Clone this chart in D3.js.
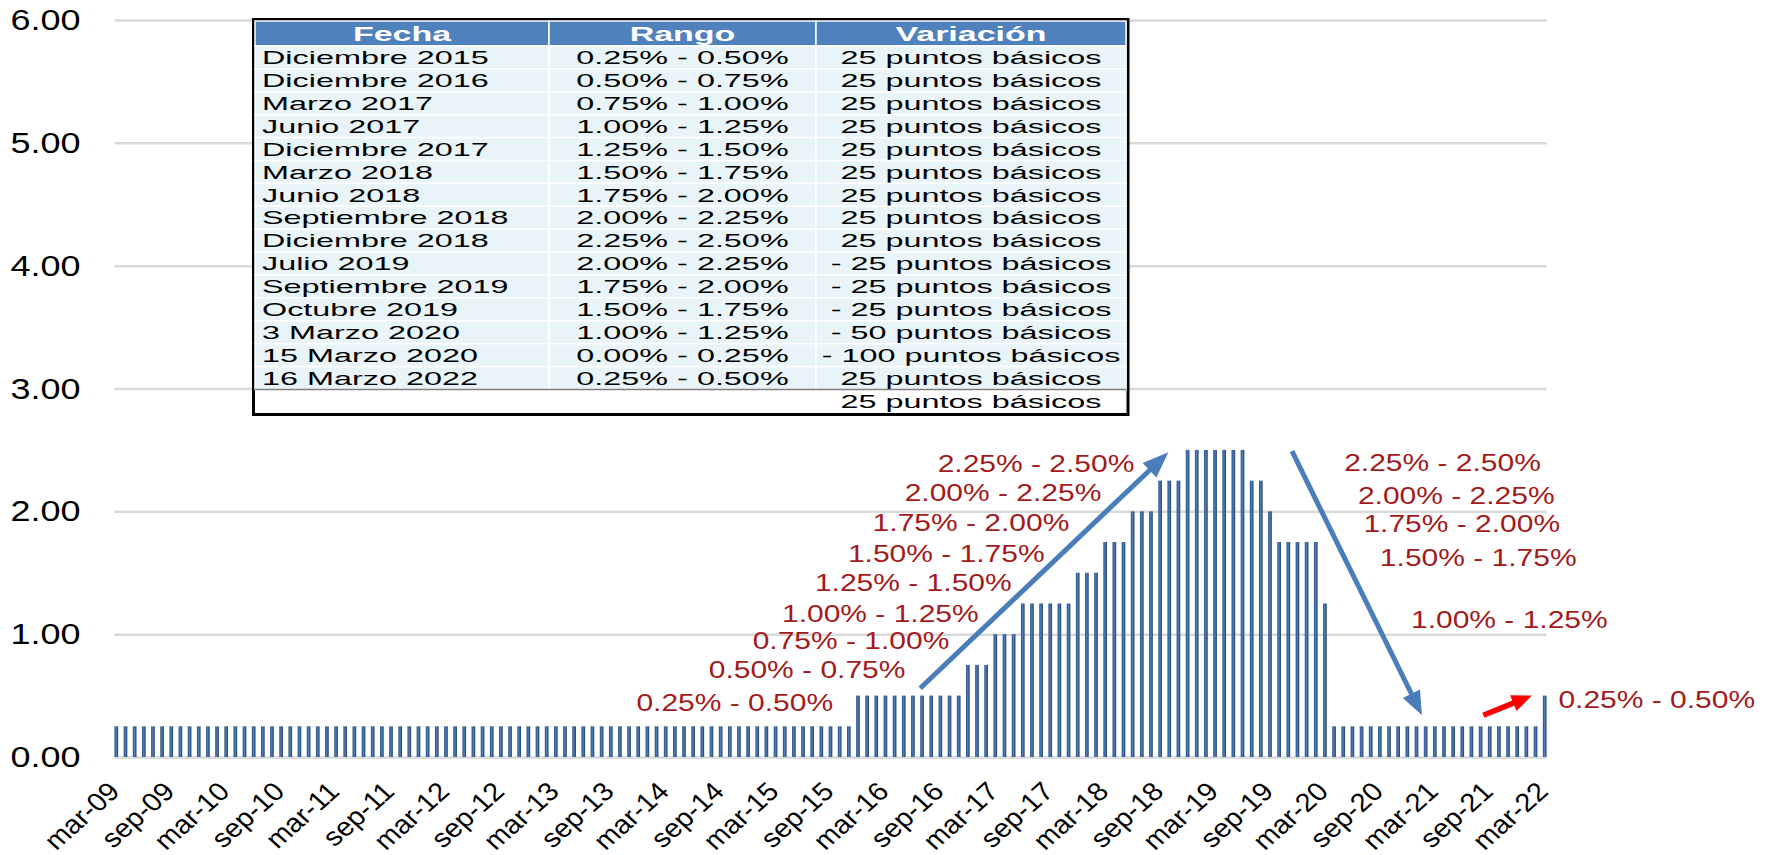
<!DOCTYPE html>
<html>
<head>
<meta charset="utf-8">
<script src="https://cdn.jsdelivr.net/npm/d3@7"></script>
<style>
body { margin: 0; background: #fff; }
text { font-family: "Liberation Sans", Arial, sans-serif; }
</style>
</head>
<body>
<div id="chart"></div>
<script>
// monthly upper bound of the target range, mar-09 .. mar-22
var months = [
  "mar-09","abr-09","may-09","jun-09","jul-09","ago-09","sep-09","oct-09","nov-09","dic-09",
  "ene-10","feb-10","mar-10","abr-10","may-10","jun-10","jul-10","ago-10","sep-10","oct-10","nov-10","dic-10",
  "ene-11","feb-11","mar-11","abr-11","may-11","jun-11","jul-11","ago-11","sep-11","oct-11","nov-11","dic-11",
  "ene-12","feb-12","mar-12","abr-12","may-12","jun-12","jul-12","ago-12","sep-12","oct-12","nov-12","dic-12",
  "ene-13","feb-13","mar-13","abr-13","may-13","jun-13","jul-13","ago-13","sep-13","oct-13","nov-13","dic-13",
  "ene-14","feb-14","mar-14","abr-14","may-14","jun-14","jul-14","ago-14","sep-14","oct-14","nov-14","dic-14",
  "ene-15","feb-15","mar-15","abr-15","may-15","jun-15","jul-15","ago-15","sep-15","oct-15","nov-15","dic-15",
  "ene-16","feb-16","mar-16","abr-16","may-16","jun-16","jul-16","ago-16","sep-16","oct-16","nov-16","dic-16",
  "ene-17","feb-17","mar-17","abr-17","may-17","jun-17","jul-17","ago-17","sep-17","oct-17","nov-17","dic-17",
  "ene-18","feb-18","mar-18","abr-18","may-18","jun-18","jul-18","ago-18","sep-18","oct-18","nov-18","dic-18",
  "ene-19","feb-19","mar-19","abr-19","may-19","jun-19","jul-19","ago-19","sep-19","oct-19","nov-19","dic-19",
  "ene-20","feb-20","mar-20","abr-20","may-20","jun-20","jul-20","ago-20","sep-20","oct-20","nov-20","dic-20",
  "ene-21","feb-21","mar-21","abr-21","may-21","jun-21","jul-21","ago-21","sep-21","oct-21","nov-21","dic-21",
  "ene-22","feb-22","mar-22"
];
var tasa = [
  0.25,0.25,0.25,0.25,0.25,0.25,0.25,0.25,0.25,0.25,
  0.25,0.25,0.25,0.25,0.25,0.25,0.25,0.25,0.25,0.25,0.25,0.25,
  0.25,0.25,0.25,0.25,0.25,0.25,0.25,0.25,0.25,0.25,0.25,0.25,
  0.25,0.25,0.25,0.25,0.25,0.25,0.25,0.25,0.25,0.25,0.25,0.25,
  0.25,0.25,0.25,0.25,0.25,0.25,0.25,0.25,0.25,0.25,0.25,0.25,
  0.25,0.25,0.25,0.25,0.25,0.25,0.25,0.25,0.25,0.25,0.25,0.25,
  0.25,0.25,0.25,0.25,0.25,0.25,0.25,0.25,0.25,0.25,0.25,0.50,
  0.50,0.50,0.50,0.50,0.50,0.50,0.50,0.50,0.50,0.50,0.50,0.75,
  0.75,0.75,1.00,1.00,1.00,1.25,1.25,1.25,1.25,1.25,1.25,1.50,
  1.50,1.50,1.75,1.75,1.75,2.00,2.00,2.00,2.25,2.25,2.25,2.50,
  2.50,2.50,2.50,2.50,2.50,2.50,2.25,2.25,2.00,1.75,1.75,1.75,
  1.75,1.75,1.25,0.25,0.25,0.25,0.25,0.25,0.25,0.25,0.25,0.25,
  0.25,0.25,0.25,0.25,0.25,0.25,0.25,0.25,0.25,0.25,0.25,0.25,
  0.25,0.25,0.50
];
var tickLabels = ["mar-09","sep-09","mar-10","sep-10","mar-11","sep-11","mar-12","sep-12","mar-13","sep-13",
  "mar-14","sep-14","mar-15","sep-15","mar-16","sep-16","mar-17","sep-17","mar-18","sep-18",
  "mar-19","sep-19","mar-20","sep-20","mar-21","sep-21","mar-22"];
var yTicks = [0, 1, 2, 3, 4, 5, 6];

var tablaCols = ["Fecha", "Rango", "Variación"];
var tablaFecha = ["Diciembre 2015","Diciembre 2016","Marzo 2017","Junio 2017","Diciembre 2017","Marzo 2018",
  "Junio 2018","Septiembre 2018","Diciembre 2018","Julio 2019","Septiembre 2019","Octubre 2019",
  "3 Marzo 2020","15 Marzo 2020","16 Marzo 2022"];
var tablaRango = ["0.25% - 0.50%","0.50% - 0.75%","0.75% - 1.00%","1.00% - 1.25%","1.25% - 1.50%","1.50% - 1.75%",
  "1.75% - 2.00%","2.00% - 2.25%","2.25% - 2.50%","2.00% - 2.25%","1.75% - 2.00%","1.50% - 1.75%",
  "1.00% - 1.25%","0.00% - 0.25%","0.25% - 0.50%"];
var tablaVar = ["25 puntos básicos","25 puntos básicos","25 puntos básicos","25 puntos básicos","25 puntos básicos",
  "25 puntos básicos","25 puntos básicos","25 puntos básicos","25 puntos básicos","- 25 puntos básicos",
  "- 25 puntos básicos","- 25 puntos básicos","- 50 puntos básicos","- 100 puntos básicos","25 puntos básicos"];
var tablaPie = "25 puntos básicos";

var etiquetasSube = ["0.25% - 0.50%","0.50% - 0.75%","0.75% - 1.00%","1.00% - 1.25%","1.25% - 1.50%",
  "1.50% - 1.75%","1.75% - 2.00%","2.00% - 2.25%","2.25% - 2.50%"];
var etiquetasBaja = ["2.25% - 2.50%","2.00% - 2.25%","1.75% - 2.00%","1.50% - 1.75%","1.00% - 1.25%","0.25% - 0.50%"];

// ---- layout ----
var W = 1770, H = 855;
var svg = d3.select("#chart").append("svg").attr("width", W).attr("height", H);

var x = d3.scaleBand().domain(months).range([109, 1552]).padding(0.6),
    y = d3.scaleLinear().domain([0, 6]).range([757, 20]);
var bw = x.bandwidth();
// fractional month index -> pixel (used for annotations)
var xi = d3.scaleLinear().domain([0, months.length - 1])
    .range([x(months[0]) + bw / 2, x(months[months.length - 1]) + bw / 2]);
var gx0 = x(months[0]), gx1 = x(months[months.length - 1]) + bw;

var defs = svg.append("defs");
var grad = defs.append("linearGradient").attr("id", "barGrad")
    .attr("x1", "0%").attr("x2", "100%").attr("y1", "0%").attr("y2", "0%");
grad.append("stop").attr("offset", "0%").attr("stop-color", "#24497a");
grad.append("stop").attr("offset", "45%").attr("stop-color", "#4f7fbf");
grad.append("stop").attr("offset", "100%").attr("stop-color", "#1d3c66");

// y axis + gridlines
var yAxis = svg.append("g")
    .attr("transform", "translate(" + gx0 + ",0)")
    .call(d3.axisLeft(y).tickValues(yTicks).tickSize(-(gx1 - gx0)).tickFormat(d3.format(".2f")));
yAxis.select(".domain").remove();
yAxis.selectAll("line").attr("stroke", "#d9d9d9").attr("stroke-width", 2.5);
yAxis.selectAll("text")
    .attr("x", -34 / 1.2)
    .attr("transform", "scale(1.2,1)")
    .attr("fill", "#000")
    .style("font-size", "30px")
    .style("font-family", '"Liberation Sans", Arial, sans-serif');

// bars
svg.append("g").selectAll("rect")
    .data(months.map(function (m, i) { return { m: m, v: tasa[i] }; }))
    .enter().append("rect")
    .attr("x", function (d) { return x(d.m); })
    .attr("y", function (d) { return y(d.v); })
    .attr("width", bw)
    .attr("height", function (d) { return y(0) - y(d.v); })
    .attr("fill", "url(#barGrad)");

// x axis labels
var xAxis = svg.append("g")
    .attr("transform", "translate(0," + y(0) + ")")
    .call(d3.axisBottom(x).tickValues(tickLabels).tickSize(0));
xAxis.select(".domain").remove();
xAxis.selectAll("text")
    .attr("x", 0).attr("y", 0).attr("dy", 0)
    .attr("transform", "translate(5,36) scale(1.12,1) rotate(-45)")
    .style("text-anchor", "end")
    .attr("fill", "#000")
    .style("font-size", "26px")
    .style("font-family", '"Liberation Sans", Arial, sans-serif');

// red range labels
var posSube = [[56.8,0.44],[64.7,0.71],[69.5,0.95],[72.7,1.17],[76.3,1.42],[79.9,1.66],[82.6,1.91],[86.1,2.15],[89.7,2.39]];
var posBaja = [[134.1,2.40],[135.6,2.13],[136.2,1.90],[138.0,1.62],[141.4,1.12],[157.5,0.47]];
var rojos = etiquetasSube.map(function (t, i) { return { t: t, p: posSube[i] }; })
    .concat(etiquetasBaja.map(function (t, i) { return { t: t, p: posBaja[i] }; }));
svg.append("g").selectAll("text")
    .data(rojos)
    .enter().append("text")
    .attr("transform", function (d) {
        return "translate(" + xi(d.p[0]) + "," + y(d.p[1]) + ") scale(1.25,1)";
    })
    .attr("dy", "0.35em")
    .attr("fill", "#a31a1a")
    .style("font-size", "24px")
    .text(function (d) { return d.t; });

// arrows
var flechas = [
    { a: [87.8, 0.56], b: [114.9, 2.48], c: "#4a7ebb", w: 5, hl: 26, hw: 20 },
    { a: [128.4, 2.49], b: [142.6, 0.34], c: "#4a7ebb", w: 5, hl: 24, hw: 19 },
    { a: [149.3, 0.34], b: [154.6, 0.50], c: "#ff0000", w: 5.5, hl: 20, hw: 17 }
];
var fg = svg.append("g");
flechas.forEach(function (f) {
    var x0 = xi(f.a[0]), y0 = y(f.a[1]), x1 = xi(f.b[0]), y1 = y(f.b[1]);
    var dx = x1 - x0, dy = y1 - y0, len = Math.sqrt(dx * dx + dy * dy);
    var ux = dx / len, uy = dy / len;
    var bx = x1 - ux * f.hl, by = y1 - uy * f.hl;
    fg.append("line")
        .attr("x1", x0).attr("y1", y0)
        .attr("x2", x1 - ux * f.hl * 0.8).attr("y2", y1 - uy * f.hl * 0.8)
        .attr("stroke", f.c).attr("stroke-width", f.w);
    fg.append("path")
        .attr("d", "M" + x1 + "," + y1 +
            "L" + (bx - uy * f.hw / 2) + "," + (by + ux * f.hw / 2) +
            "L" + (bx + uy * f.hw / 2) + "," + (by - ux * f.hw / 2) + "Z")
        .attr("fill", f.c);
});

// table
var tx = [255, 549, 816, 1126], tTop = 21, hH = 25, rH = 22.9;
var tabla = svg.append("g");
tabla.append("rect").attr("x", 253.5).attr("y", 19.5).attr("width", 874.5).attr("height", 395)
    .attr("fill", "#fff").attr("stroke", "#000").attr("stroke-width", 3);
tablaCols.forEach(function (c, j) {
    tabla.append("rect").attr("x", tx[j]).attr("y", tTop).attr("width", tx[j + 1] - tx[j]).attr("height", hH)
        .attr("fill", "#4f81bd").attr("stroke", "#fff").attr("stroke-width", 1.5);
    tabla.append("text")
        .attr("transform", "translate(" + (tx[j] + tx[j + 1]) / 2 + "," + (tTop + hH / 2) + ") scale(1.7,1)")
        .attr("dy", "0.36em").attr("text-anchor", "middle")
        .attr("fill", "#fff").style("font-weight", "bold").style("font-size", "20px")
        .text(c);
});
var filas = tablaFecha.map(function (f, i) { return [f, tablaRango[i], tablaVar[i]]; });
filas.forEach(function (fila, i) {
    var ry = tTop + hH + i * rH;
    fila.forEach(function (t, j) {
        tabla.append("rect").attr("x", tx[j]).attr("y", ry).attr("width", tx[j + 1] - tx[j]).attr("height", rH)
            .attr("fill", "#e9f4f8").attr("stroke", "#fff").attr("stroke-width", 1.5);
        var px = j === 0 ? tx[j] + 7 : (tx[j] + tx[j + 1]) / 2;
        tabla.append("text")
            .attr("transform", "translate(" + px + "," + (ry + rH / 2) + ") scale(1.75,1)")
            .attr("dy", "0.36em").attr("text-anchor", j === 0 ? "start" : "middle")
            .attr("fill", "#000").style("font-size", "18.5px")
            .text(t);
    });
});
var pieY = tTop + hH + filas.length * rH;
tabla.append("line").attr("x1", tx[0]).attr("x2", tx[3]).attr("y1", pieY).attr("y2", pieY)
    .attr("stroke", "#7f7f7f").attr("stroke-width", 1.5);
tabla.append("text")
    .attr("transform", "translate(" + (tx[2] + tx[3]) / 2 + "," + (pieY + 12) + ") scale(1.75,1)")
    .attr("dy", "0.36em").attr("text-anchor", "middle")
    .attr("fill", "#000").style("font-size", "18.5px")
    .text(tablaPie);
</script>
</body>
</html>
